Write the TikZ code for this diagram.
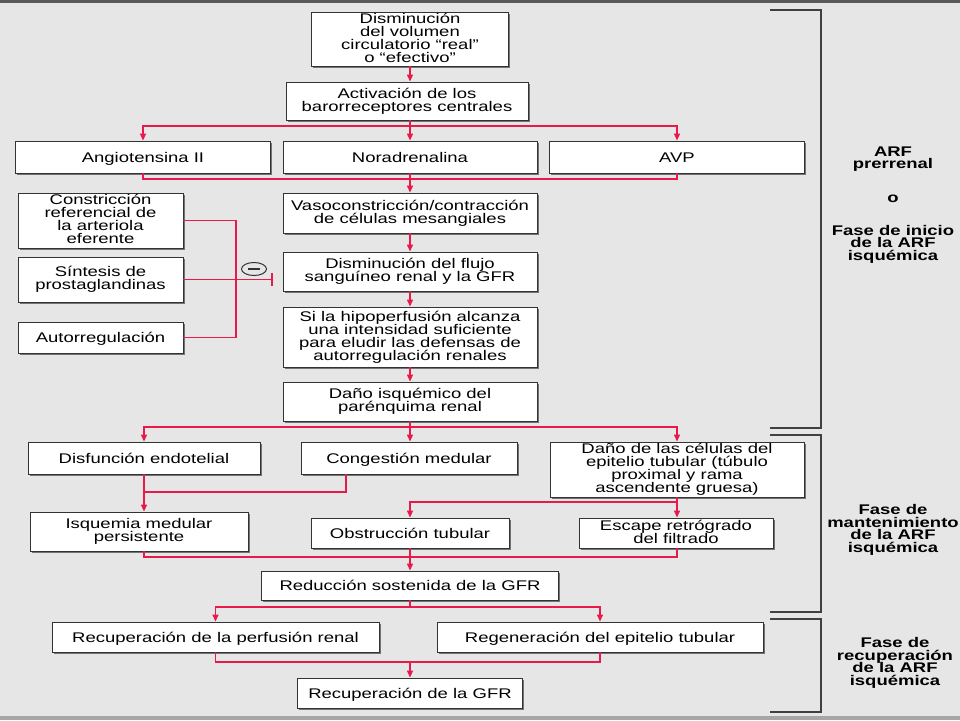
\documentclass[tikz,border=0pt]{standalone}
\usepackage{fontspec}
\setmainfont{Liberation Sans}[FakeStretch=1.32]
\usetikzlibrary{arrows.meta,shadows,shapes.geometric}
\definecolor{arfred}{HTML}{E8194B}
\definecolor{bggray}{HTML}{E6E6E6}

\begin{document}
\lineskiplimit=-10pt\relax
\begin{tikzpicture}[x=1pt, y=-1pt,
    every node/.style={align=center, font=\fontsize{14}{13}\selectfont},
    box/.style={draw=black!80, line width=0.9pt, fill=white, inner sep=0pt,
        execute at begin node={\vrule width 0pt height 13pt\relax},
        execute at end node={\vrule width 0pt depth 3pt\relax},
        drop shadow={shadow xshift=1.6pt, shadow yshift=-1.6pt, fill=black!55, opacity=1}},
    flow/.style={arfred, line width=1.4pt},
    arr/.style={flow, -{Triangle[width=6pt,length=7pt]}},
    phase/.style={font=\bfseries\fontsize{14}{12.5}\selectfont},
    brace/.style={black!75, line width=1.2pt}]
    \useasboundingbox (0,0) rectangle (960,720);
    % background
    \fill[bggray] (0,0) rectangle (960,720);
    \fill[black!65] (0,0) rectangle (960,2.5);
    \fill[black!35] (0,716) rectangle (960,720);

    % prerenal phase
    \node[box, minimum width=197, minimum height=54] (vol) at (410,39) {Disminución\\del volumen\\circulatorio “real”\\o “efectivo”};
    \node[box, minimum width=242, minimum height=38] (baro) at (407,101) {Activación de los\\barorreceptores centrales};
    \node[box, minimum width=255, minimum height=32] (angio) at (143,157) {Angiotensina II};
    \node[box, minimum width=254, minimum height=32] (noradr) at (410,157) {Noradrenalina};
    \node[box, minimum width=255, minimum height=32] (avp) at (677,157) {AVP};
    \node[box, minimum width=254, minimum height=40] (vaso) at (410,213) {Vasoconstricción/contracción\\de células mesangiales};
    \node[box, minimum width=254, minimum height=39] (flujo) at (410,271.5) {Disminución del flujo\\sanguíneo renal y la GFR};
    \node[box, minimum width=254, minimum height=60] (hipo) at (410,337) {Si la hipoperfusión alcanza\\una intensidad suficiente\\para eludir las defensas de\\autorregulación renales};
    \node[box, minimum width=254, minimum height=39] (isqdano) at (410,401.5) {Daño isquémico del\\parénquima renal};
    \node[box, minimum width=165, minimum height=55] (constr) at (100.5,220.5) {Constricción\\referencial de\\la arteriola\\eferente};
    \node[box, minimum width=165, minimum height=45] (sintesis) at (100.5,279.5) {Síntesis de\\prostaglandinas};
    \node[box, minimum width=165, minimum height=31] (autoreg) at (100.5,337.5) {Autorregulación};

    \draw[arr] (vol) -- (vol |- baro.north);
    \coordinate (split1) at (410,126);
    \draw[flow] (baro.south -| split1) -- (split1);
    \draw[arr] (split1) -| (angio.north);
    \draw[arr] (split1) -- (noradr.north);
    \draw[arr] (split1) -| (avp.north);
    \coordinate (merge1) at (410,179);
    \draw[flow] (angio.south) |- (merge1) -| (avp.south);
    \draw[arr] (noradr.south) -- (vaso.north);
    \draw[arr] (vaso) -- (flujo);
    \draw[arr] (flujo) -- (hipo);
    \draw[arr] (hipo) -- (isqdano);

    % feedback on renal flow
    \coordinate (fb) at (236,279.5);
    \draw[flow] (constr.east) -| (fb) |- (autoreg.east);
    \draw[flow] (sintesis.east) -- (fb);
    \draw[flow, -{Bar[width=13pt]}, shorten >=10pt] (fb) -- (fb -| flujo.west);
    \node[draw=black!80, line width=1pt, ellipse, inner sep=0pt, minimum width=25, minimum height=13] (minus) at (254,269) {};
    \draw[black!80, line width=1.3pt] ([xshift=-6pt]minus.center) -- ([xshift=6pt]minus.center);

    % maintenance phase
    \node[box, minimum width=232, minimum height=32] (disf) at (144,458) {Disfunción endotelial};
    \node[box, minimum width=216, minimum height=32] (congest) at (409,458) {Congestión medular};
    \node[box, minimum width=254, minimum height=55] (epitel) at (677,469.5) {Daño de las células del\\epitelio tubular (túbulo\\proximal y rama\\ascendente gruesa)};
    \node[box, minimum width=218, minimum height=39] (isqmed) at (139,531.5) {Isquemia medular\\persistente};
    \node[box, minimum width=198, minimum height=30] (obstr) at (410,533) {Obstrucción tubular};
    \node[box, minimum width=194, minimum height=30] (escape) at (676,533) {Escape retrógrado\\del filtrado};
    \node[box, minimum width=297, minimum height=29] (reduc) at (410,585.5) {Reducción sostenida de la GFR};

    \coordinate (split2) at (410,427);
    \draw[flow] (isqdano.south) -- (split2);
    \draw[arr] (split2) -| (disf.north);
    \draw[arr] (split2) -- (split2 |- congest.north);
    \draw[arr] (split2) -| (epitel.north);
    \draw[arr] (disf.south) -- (disf.south |- isqmed.north);
    \coordinate (cgbend) at (346,492);
    \draw[flow] (congest.south -| cgbend) |- (disf.south |- cgbend);
    \coordinate (epsplit) at (677,502);
    \draw[arr] (epitel.south) -- (epitel.south |- escape.north);
    \draw[arr] (epsplit) -| (obstr.north);
    \coordinate (merge2) at (410,557);
    \draw[flow] (disf.south |- isqmed.south) |- (merge2) -| (epitel.south |- escape.south);
    \draw[arr] (obstr.south) -- (reduc.north);

    % recovery phase
    \node[box, minimum width=327, minimum height=30] (recperf) at (215.5,637) {Recuperación de la perfusión renal};
    \node[box, minimum width=326, minimum height=30] (regen) at (600,637) {Regeneración del epitelio tubular};
    \node[box, minimum width=225, minimum height=30] (recgfr) at (410,693) {Recuperación de la GFR};

    \coordinate (split3) at (410,607);
    \draw[flow] (reduc.south) -- (split3);
    \draw[arr] (split3) -| (recperf.north);
    \draw[arr] (split3) -| (regen.north);
    \coordinate (merge3) at (410,662);
    \draw[flow] (recperf.south) |- (merge3) -| (regen.south);
    \draw[arr] (merge3) -- (recgfr.north);

    % phase brackets
    \draw[brace] (770,10) -- (821,10) -- (821,428) -- (770,428);
    \draw[brace] (770,435) -- (821,435) -- (821,612) -- (770,612);
    \draw[brace] (770,619) -- (821,619) -- (821,712) -- (770,712);
    \node[phase] (lprer) at (893,159) {ARF\\prerrenal};
    \node[phase] (lo) at (893,199) {o};
    \node[phase] (linic) at (893,244) {Fase de inicio\\de la ARF\\isquémica};
    \node[phase] (lmant) at (893,530) {Fase de\\mantenimiento\\de la ARF\\isquémica};
    \node[phase] (lrecu) at (895,663) {Fase de\\recuperación\\de la ARF\\isquémica};
\end{tikzpicture}
\end{document}
